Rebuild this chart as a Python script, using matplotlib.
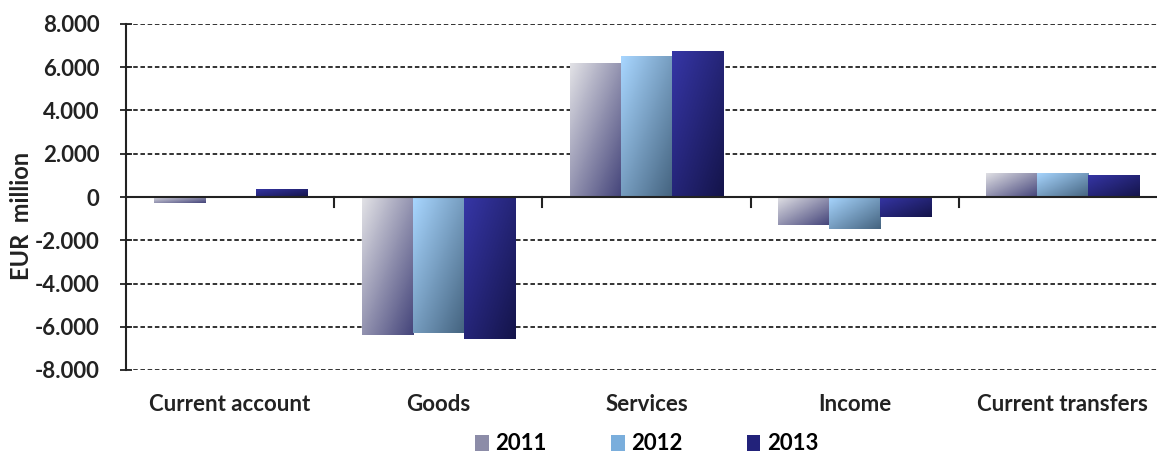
import numpy as np
import matplotlib
matplotlib.use("Agg")
import matplotlib.pyplot as plt
from matplotlib.colors import LinearSegmentedColormap
from matplotlib.patches import Patch
from matplotlib.ticker import FuncFormatter

# Balance of payments components, EUR million
categories = ["Current account", "Goods", "Services", "Income", "Current transfers"]
years = ["2011", "2012", "2013"]
values_2011 = [-300, -6370, 6180, -1300, 1120]
values_2012 = [-20, -6280, 6500, -1490, 1120]
values_2013 = [380, -6560, 6740, -930, 1020]
series = [values_2011, values_2012, values_2013]

# light -> dark diagonal gradients per year
gradients = [
    ("#e2e2e6", "#44447a"),
    ("#a8d6ff", "#44637f"),
    ("#3636a6", "#14144a"),
]
legend_colors = ["#8c8ca8", "#7aaedc", "#22227a"]

plt.rcParams["font.family"] = ["Lato", "DejaVu Sans"]
plt.rcParams["font.weight"] = "bold"

fig = plt.figure(figsize=(11.57, 4.55), dpi=100)
ax = fig.add_axes([126 / 1157, 85 / 455, 1041 / 1157, 346 / 455])

n = len(series)
width = 0.245
x = np.arange(len(categories))

# diagonal gradient field: 0 at top-left, 1 at bottom-right
gy, gx = np.mgrid[0:1:64j, 0:1:64j]
field = (gx + gy) / 2.0

for i, vals in enumerate(series):
    cmap = LinearSegmentedColormap.from_list(f"g{i}", gradients[i])
    offs = x + (i - (n - 1) / 2) * width
    bars = ax.bar(offs, vals, width=width, facecolor="none",
                  edgecolor="none", zorder=3)
    for b in bars:
        x0 = b.get_x()
        x1 = x0 + b.get_width()
        y0 = min(b.get_y(), b.get_y() + b.get_height())
        y1 = max(b.get_y(), b.get_y() + b.get_height())
        im = ax.imshow(field, cmap=cmap, vmin=0, vmax=1, aspect="auto",
                       extent=(x0, x1, y0, y1), origin="upper",
                       interpolation="bilinear", zorder=3)
        im.set_clip_path(b)

ax.set_xlim(-0.5, len(categories) - 0.5)
ax.set_ylim(-8000, 8000)
ax.set_yticks(np.arange(-8000, 8001, 2000))
ax.yaxis.set_major_formatter(
    FuncFormatter(lambda v, p: f"{int(v):,}".replace(",", ".")))

ax.grid(axis="y", linestyle=(0, (2.5, 1.5)), color="#222222", linewidth=1.3, zorder=1)
ax.axhline(0, color="#222222", linewidth=1.5, zorder=4)

for s in ["top", "right", "bottom"]:
    ax.spines[s].set_visible(False)
ax.spines["left"].set_linewidth(1.5)
ax.spines["left"].set_color("#222222")

ax.tick_params(axis="y", direction="inout", length=8, width=1.3,
               labelsize=16, pad=15, colors="#222222")
ax.set_xticks(x)
ax.set_xticklabels(categories, fontsize=16, fontweight="bold")
ax.tick_params(axis="x", length=0, pad=17, colors="#222222")

# category separator ticks on the zero line
for b in np.arange(0.5, len(categories) - 0.5, 1.0):
    ax.plot([b, b], [0, -450], color="#222222", linewidth=1.5, zorder=4,
            clip_on=False)

for lbl in ax.get_yticklabels():
    lbl.set_fontweight("bold")

fig.text(22 / 1157, (455 - 216) / 455, "EUR  million",
         rotation=90, ha="center", va="center", fontsize=17,
         fontweight="bold", color="#222222")

handles = [Patch(facecolor=c, edgecolor="none") for c in legend_colors]
fig.legend(handles, years, loc="center", bbox_to_anchor=(647 / 1157, 1 - 444 / 455),
           ncol=3, frameon=False, handlelength=0.6,
           handleheight=0.75, handletextpad=0.3, columnspacing=2.9,
           prop={"weight": "bold", "size": 16})

fig.savefig("out.png", dpi=100)
